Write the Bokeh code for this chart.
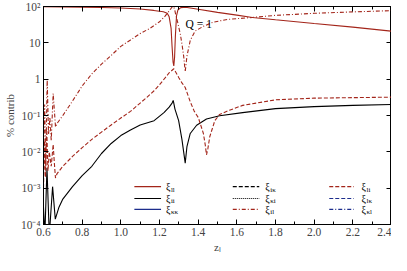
from bokeh.plotting import figure
from bokeh.models import (Range1d, FixedTicker, LinearAxis, LogAxis, Label, Arrow)
from bokeh.embed import file_html
from bokeh.resources import INLINE

# ---------------- data ----------------
z_ll = [0.600, 0.700, 0.800, 0.900, 1.000, 1.100, 1.170, 1.220, 1.240, 1.250,
        1.260, 1.265, 1.270, 1.274, 1.278, 1.282, 1.288, 1.295, 1.310, 1.335,
        1.400, 1.500, 1.600, 1.680, 1.800, 2.000, 2.200, 2.400]
xi_ll = [98, 97, 96, 94, 91, 85, 78, 72, 65, 52,
         25, 8, 3, 2.3, 4, 15, 55, 80, 93, 95,
         84, 69, 58, 50, 43, 34, 27, 21]

z_il = [0.600, 0.606, 0.612, 0.619, 0.626, 0.633, 0.640, 0.650, 0.657, 0.662,
        0.670, 0.700, 0.750, 0.800, 0.850, 0.900, 0.950, 1.000, 1.050, 1.100,
        1.150, 1.200, 1.230, 1.257, 1.265, 1.272, 1.278, 1.283, 1.295, 1.308,
        1.318, 1.325, 1.333, 1.342, 1.359, 1.384, 1.427, 1.477, 1.550, 1.680,
        1.800, 2.000, 2.200, 2.400]
xi_il = [0.01, 0.2, 0.004, 1.0, 0.03, 0.09, 0.02, 0.4, 0.12, 0.048,
         0.06, 0.1, 0.25, 0.65, 1.4, 2.6, 4.5, 8, 12, 18,
         25, 38, 55, 85, 97, 100, 85, 63, 35, 17,
         8, 4.3, 1.6, 4.3, 11.6, 21, 28.5, 37, 44, 50,
         57, 65, 71, 77]

z_li = [0.600, 0.605, 0.610, 0.617, 0.623, 0.630, 0.640, 0.650, 0.656, 0.662,
        0.670, 0.700, 0.750, 0.800, 0.850, 0.900, 0.950, 1.000, 1.050, 1.100,
        1.130, 1.172, 1.200, 1.230, 1.250, 1.274, 1.300, 1.316, 1.333, 1.359,
        1.380, 1.401, 1.427, 1.437, 1.443, 1.450, 1.460, 1.486, 1.511, 1.562,
        1.630, 1.800, 2.000, 2.200, 2.400]
xi_li = [0.001, 0.02, 0.002, 0.04, 0.003, 0.01, 0.004, 0.016, 0.005, 0.0019,
         0.0025, 0.004, 0.0075, 0.013, 0.022, 0.035, 0.055, 0.085, 0.13, 0.22,
         0.3, 0.48, 0.7, 1.1, 1.5, 1.93, 1.1, 0.79, 0.59, 0.24,
         0.13, 0.087, 0.032, 0.015, 0.0083, 0.012, 0.026, 0.072, 0.107, 0.14,
         0.19, 0.27, 0.3, 0.31, 0.32]

z_ii = [0.600, 0.607, 0.618, 0.630, 0.647, 0.661, 0.680, 0.700, 0.750, 0.800,
        0.850, 0.900, 0.950, 1.000, 1.050, 1.100, 1.172, 1.223, 1.250, 1.265,
        1.271, 1.280, 1.299, 1.316, 1.333, 1.342, 1.359, 1.392, 1.443, 1.511,
        1.630, 1.800, 2.000, 2.200, 2.400]
xi_ii = [0.0003, 0.00005, 0.0036, 0.00005, 0.0011, 0.00014, 0.0003, 0.0005, 0.0011, 0.0022,
         0.004, 0.009, 0.017, 0.028, 0.04, 0.055, 0.072, 0.12, 0.17, 0.22,
         0.26, 0.15, 0.072, 0.022, 0.0049, 0.014, 0.032, 0.054, 0.08, 0.098,
         0.12, 0.155, 0.175, 0.19, 0.2]

x_ticks = [0.6, 0.8, 1.0, 1.2, 1.4, 1.6, 1.8, 2.0, 2.2, 2.4]
x_tick_labels = ["0.6", "0.8", "1.0", "1.2", "1.4", "1.6", "1.8", "2.0", "2.2", "2.4"]
x_minor = [0.7, 0.9, 1.1, 1.3, 1.5, 1.7, 1.9, 2.1, 2.3]
y_ticks = [1e-4, 1e-3, 1e-2, 1e-1, 1, 10, 100]
y_tick_labels = ["10\u207b\u2074", "10\u207b\u00b3", "10\u207b\u00b2", "10\u207b\u00b9",
                 "1", "10", "10\u00b2"]

legend_names = [["ll", "ii", "\u03ba\u03ba"],
                ["i\u03ba", "\u03bai", "il"],
                ["li", "l\u03ba", "\u03bal"]]

RED = "#a3251a"
BLUE = "#1c2d8c"
BLACK = "#000000"
legend_styles = [[(RED, "solid"), (BLACK, "solid"), (BLUE, "solid")],
                 [(BLACK, "4 2"), (BLACK, "1 1"), (RED, "4 2 1 2")],
                 [(RED, "4 2"), (BLUE, "4 2"), (BLUE, "4 2 1 2")]]

FONT = "Liberation Serif"

# ---------------- figure ----------------
p = figure(width=391, height=255, y_axis_type="log",
           x_range=Range1d(0.6, 2.4), y_range=Range1d(1e-4, 1e2),
           output_backend="svg", toolbar_location=None,
           min_border_left=3, min_border_right=0, min_border_top=6, min_border_bottom=1)
p.grid.visible = False
p.outline_line_color = "black"
p.outline_line_width = 1
p.background_fill_color = "white"
p.border_fill_color = "white"

xt = FixedTicker(ticks=x_ticks, minor_ticks=x_minor)
yt = FixedTicker(ticks=y_ticks, minor_ticks=[])

def style_axis(ax):
    ax.axis_line_color = "black"
    ax.major_tick_in = 5
    ax.major_tick_out = 0
    ax.minor_tick_in = 3
    ax.minor_tick_out = 0
    ax.major_tick_line_color = "black"
    ax.minor_tick_line_color = "black"
    ax.major_label_text_font = FONT
    ax.major_label_text_font_size = "11.5px"
    ax.major_label_standoff = 3
    ax.axis_label_text_font = FONT
    ax.axis_label_text_font_size = "11px"
    ax.axis_label_text_font_style = "normal"
    ax.axis_label_standoff = 2

xa = p.xaxis[0]
xa.ticker = xt
xa.major_label_overrides = {t: s for t, s in zip(x_ticks, x_tick_labels)}
xa.axis_label = "z\u2097"
style_axis(xa)

ya = p.yaxis[0]
ya.ticker = yt
ya.major_label_overrides = {t: s for t, s in zip(y_ticks, y_tick_labels)}
ya.axis_label = "% contrib"
style_axis(ya)

top = LinearAxis(ticker=xt)
style_axis(top)
top.major_label_overrides = {t: "" for t in x_ticks}
top.major_label_standoff = 0
p.add_layout(top, "above")
right = LogAxis(ticker=yt)
style_axis(right)
right.major_label_overrides = {t: "" for t in y_ticks}
right.major_label_standoff = 0
p.add_layout(right, "right")

# ---------------- curves ----------------
p.line(z_ll, xi_ll, line_color=RED, line_width=1.1)
p.line(z_ii, xi_ii, line_color=BLACK, line_width=1.1)
p.line(z_il, xi_il, line_color=RED, line_width=1.1, line_dash="4 2 1 2")
p.line(z_li, xi_li, line_color=RED, line_width=1.1, line_dash="4 2")

p.add_layout(Label(x=1.335, y=32, text="Q = 1", text_font=FONT,
                   text_font_size="11.5px", text_baseline="alphabetic",
                   text_color="black"))

# ---------------- legend (manual, for subscripts) ----------------
leg_x0 = [1.070, 1.579, 2.078]
leg_x1 = [1.208, 1.716, 2.205]
leg_tx = [1.233, 1.747, 2.245]
leg_rows = [1.1e-3, 5.2e-4, 2.6e-4]
for c in range(3):
    for r in range(3):
        col, dash = legend_styles[c][r]
        p.add_layout(Arrow(end=None, x_start=leg_x0[c], x_end=leg_x1[c],
                           y_start=leg_rows[r], y_end=leg_rows[r],
                           line_color=col, line_width=1.1, line_dash=dash))
        p.add_layout(Label(x=leg_tx[c], y=leg_rows[r], text="\u03be", text_font=FONT,
                           text_font_size="10px", text_baseline="middle",
                           text_color="black"))
        p.add_layout(Label(x=leg_tx[c], y=leg_rows[r], x_offset=5, y_offset=-3,
                           text=legend_names[c][r], text_font=FONT,
                           text_font_size="7px", text_baseline="middle",
                           text_color="black"))

open("out.html", "w").write(file_html(p, INLINE))
